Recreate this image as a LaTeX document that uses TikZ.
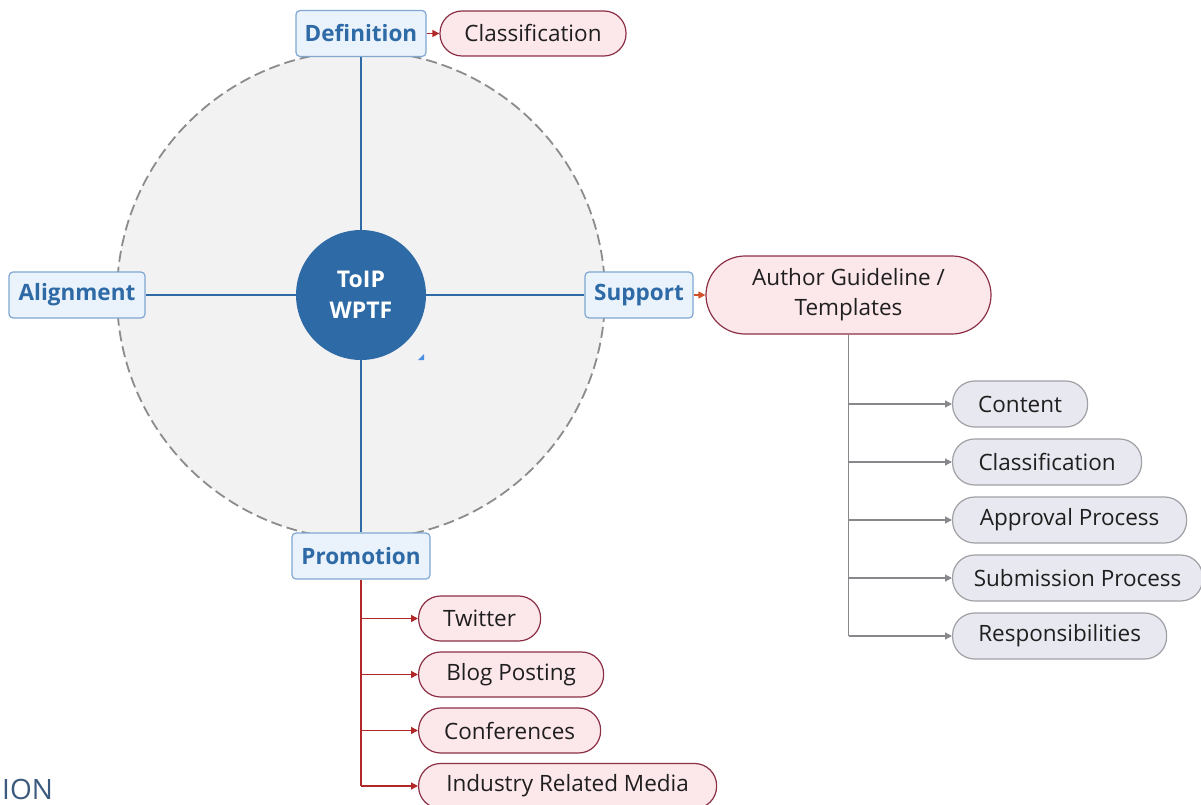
\documentclass[tikz,border=0pt]{standalone}
\usepackage{fontspec}
\setmainfont{Open Sans}
\usetikzlibrary{arrows.meta}
\definecolor{mainblue}{RGB}{46,106,166}
\definecolor{lbfill}{RGB}{234,242,251}
\definecolor{lbdraw}{RGB}{128,168,210}
\definecolor{pkfill}{RGB}{252,231,235}
\definecolor{pkdraw}{RGB}{140,48,70}
\definecolor{redline}{RGB}{178,40,40}
\definecolor{orangered}{RGB}{210,80,40}
\definecolor{gyfill}{RGB}{232,232,240}
\definecolor{gydraw}{RGB}{160,160,165}
\definecolor{gyline}{RGB}{135,135,140}
\definecolor{bgcirc}{RGB}{242,242,242}
\definecolor{dashgray}{RGB}{140,140,140}
\definecolor{iontext}{RGB}{60,90,125}
\definecolor{markblue}{RGB}{74,144,226}
\tikzset{
  topic/.style={draw=lbdraw, fill=lbfill, line width=1.2pt, rounded corners=4pt,
    text=mainblue, font=\fontsize{22.5}{26}\selectfont\bfseries, minimum height=46pt, inner sep=0pt},
  pinkpill/.style={draw=pkdraw, fill=pkfill, line width=1.2pt, rounded corners=22pt,
    font=\fontsize{22.5}{26}\selectfont, minimum height=45pt, inner sep=0pt, text=black!88},
  graypill/.style={draw=gydraw, fill=gyfill, line width=1.2pt, rounded corners=22pt,
    font=\fontsize{22.5}{26}\selectfont, minimum height=46pt, inner sep=0pt, text=black!88},
  spoke/.style={draw=mainblue, line width=1.8pt},
  redarrow/.style={draw=redline, line width=1.2pt, -{Triangle[length=7pt,width=7pt]}},
  grayarrow/.style={draw=gyline, line width=1.2pt, -{Triangle[length=7pt,width=7pt]}},
}
\begin{document}
\begin{tikzpicture}[x=1pt,y=-1pt]
\useasboundingbox (0,0) rectangle (1201,805);
\fill[white] (0,0) rectangle (1201,805);
% big background circle
\draw[fill=bgcirc, draw=dashgray, line width=1.8pt, dash pattern=on 11pt off 5pt] (361,295) circle (244);
\node[circle, fill=mainblue, minimum size=130pt, inner sep=0pt, text=white,
  font=\fontsize{23}{31}\selectfont\bfseries, align=center] (center) at (361,295) {ToIP\\WPTF};
\node[topic, minimum width=130pt] (def) at (361,33.5) {Definition};
\node[topic, minimum width=136pt] (align) at (77,295) {Alignment};
\node[topic, minimum width=108pt] (supp) at (639,295) {Support};
\node[topic, minimum width=138pt] (prom) at (361,556) {Promotion};
\draw[spoke] (center.north) -- (def.south);
\draw[spoke] (center.west) -- (align.east);
\draw[spoke] (center.east) -- (supp.west);
\draw[spoke] (center.south) -- (prom.north);
% small triangle marker
\fill[markblue] (418,360) -- (424,360) -- (424,354) -- cycle;
% top classification
\node[pinkpill, minimum width=186pt] (cls1) at (533,33.5) {Classification};
\draw[redarrow] (def.east) -- (cls1.west);
% author guideline
\node[pinkpill, minimum width=285pt, minimum height=78pt, rounded corners=39pt, align=center,
  font=\fontsize{22.5}{30}\selectfont] (auth) at (848.5,295) {Author Guideline /\\Templates};
\draw[draw=orangered, line width=1.2pt, -{Triangle[length=7pt,width=7pt]}] (supp.east) -- (auth.west);
% gray children
\node[graypill, minimum width=135pt, anchor=west] (content) at (952,404) {Content};
\node[graypill, minimum width=189pt, anchor=west] (cls2) at (952,462) {Classification};
\node[graypill, minimum width=234pt, anchor=west] (appr) at (952,520) {Approval Process};
\node[graypill, minimum width=250pt, anchor=west] (subm) at (952,578) {Submission Process};
\node[graypill, minimum width=214pt, anchor=west] (resp) at (952,636) {Responsibilities};
\draw[draw=gyline, line width=1.2pt] (auth.south) -- (auth.south |- resp.west);
\foreach \n in {content,cls2,appr,subm,resp}{
  \draw[grayarrow] (auth.south |- \n.west) -- (\n.west);
}
% promotion children
\node[pinkpill, minimum width=122pt, anchor=west] (tw) at (418,618.5) {Twitter};
\node[pinkpill, minimum width=185pt, anchor=west] (blog) at (418,674.5) {Blog Posting};
\node[pinkpill, minimum width=182pt, anchor=west] (conf) at (418,730.5) {Conferences};
\node[pinkpill, minimum width=298pt, anchor=west] (ind) at (418,786) {Industry Related Media};
\draw[draw=redline, line width=1.2pt] (prom.south) -- (prom.south |- ind.west);
\foreach \n in {tw,blog,conf,ind}{
  \draw[redarrow] (prom.south |- \n.west) -- (\n.west);
}
% cut-off slide text
\node[anchor=base west, inner sep=0pt, text=iontext, font=\fontsize{28}{30}\selectfont] (ion) at (2,799) {ION};
\end{tikzpicture}
\end{document}
